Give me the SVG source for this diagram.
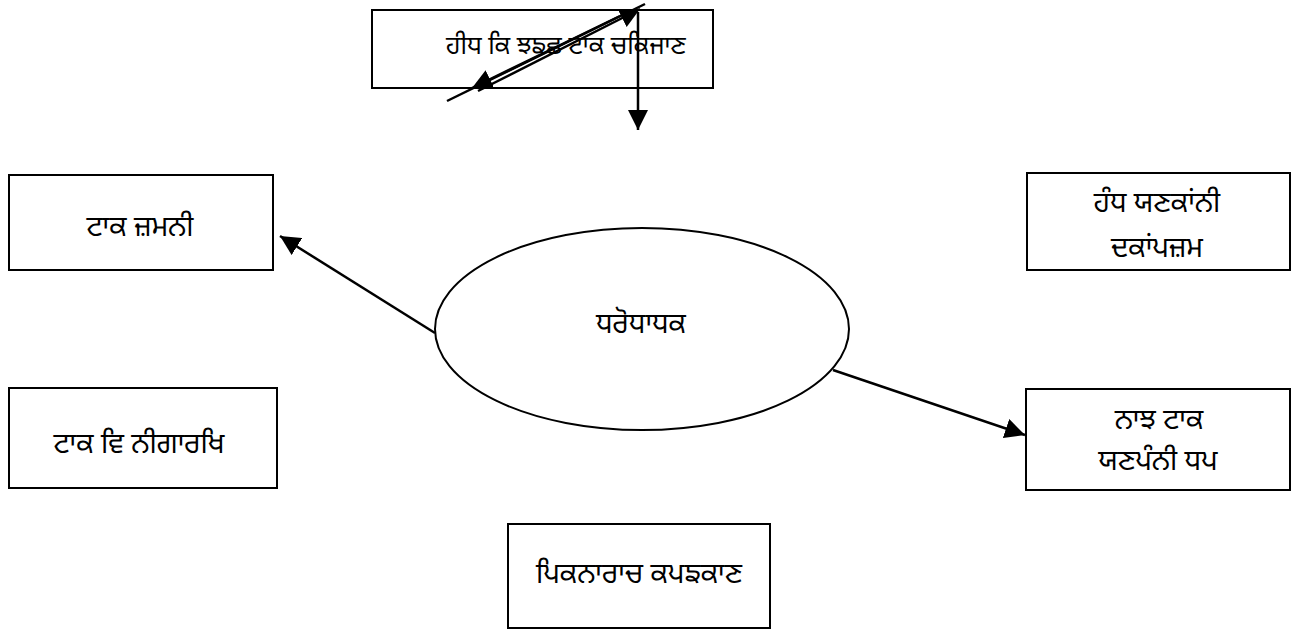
<svg xmlns="http://www.w3.org/2000/svg" width="1294" height="630" viewBox="0 0 1294 630">
<style>
.box{fill:#fff;stroke:#000;stroke-width:2}
.t{font-family:"Noto Sans Gurmukhi","Lohit Gurmukhi","Noto Sans","DejaVu Sans",sans-serif;font-size:28px;fill:#000;text-anchor:middle}
.c{stroke:#000;stroke-width:2.5;fill:none}
</style>
<defs>
<marker id="ahb" viewBox="0 0 10 10" refX="10" refY="5" markerWidth="8" markerHeight="8" orient="auto">
<path d="M0,0 L10,5 L0,10 z" fill="#000"/>
</marker>
</defs>
<rect width="1294" height="630" fill="#fff"/>
<g id="n-top"><rect class="box" x="372" y="10" width="341" height="78"/><text class="t" x="566" y="54" style="font-size:25px">ਹੀਧ ਕਿ ਝਙਛ ਟਾਕ ਚਕਿਜਾਣ</text></g>
<g id="n-left1"><rect class="box" x="9" y="175" width="264" height="95"/><text class="t" x="140" y="236">ਟਾਕ ਜ਼ਮਨੀ</text></g>
<g id="n-right1"><rect class="box" x="1027" y="173" width="263" height="97"/><text class="t" x="1157" y="212">ਹੰਧ ਯਣਕਾਂਨੀ</text><text class="t" x="1157" y="257">ਦਕਾਂਪਜ਼ਮ</text></g>
<g id="n-center"><ellipse class="box" cx="642" cy="329" rx="207" ry="101"/><text class="t" x="641" y="333">ਧਰੋਧਾਧਕ</text></g>
<g id="n-left2"><rect class="box" x="9" y="388" width="268" height="100"/><text class="t" x="139" y="453">ਟਾਕ ਵਿ ਨੀਗਾਰਖਿ</text></g>
<g id="n-right2"><rect class="box" x="1026" y="389" width="264" height="101"/><text class="t" x="1159" y="429">ਨਾਝ ਟਾਕ</text><text class="t" x="1158" y="470">ਯਣਪੰਨੀ ਧਪ</text></g>
<g id="n-bottom"><rect class="box" x="508" y="524" width="262" height="104"/><text class="t" x="639" y="583">ਪਿਕਨਾਰਾਚ ਕਪਙਕਾਣ</text></g>
<g id="connectors">
<line class="c" x1="645" y1="4" x2="447" y2="101"/>
<line class="c" x1="620" y1="16" x2="472" y2="88" marker-end="url(#ahb)"/>
<line class="c" x1="478" y1="91" x2="640" y2="9" marker-end="url(#ahb)"/>
<line class="c" x1="638" y1="12" x2="638" y2="130" marker-end="url(#ahb)"/>
<line class="c" x1="435" y1="333" x2="280" y2="236" marker-end="url(#ahb)"/>
<line class="c" x1="833" y1="370" x2="1025" y2="435" marker-end="url(#ahb)"/>
</g>
</svg>
